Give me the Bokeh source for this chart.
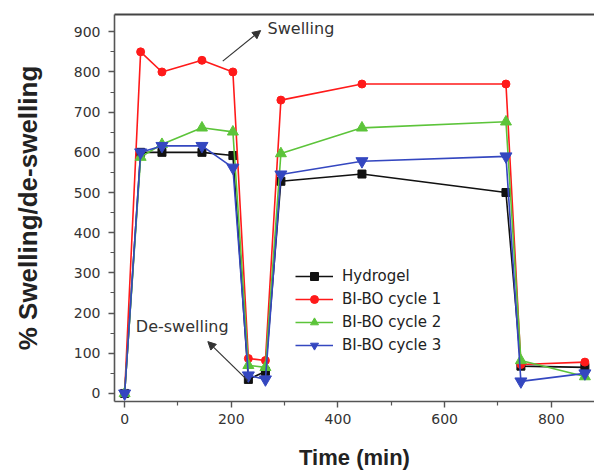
from bokeh.plotting import figure
from bokeh.models import Range1d, LinearAxis, Label, Arrow, NormalHead, FixedTicker
from bokeh.embed import file_html
from bokeh.resources import INLINE

# ---- data ----
time_min = [0, 30, 70, 145, 203, 232, 264, 293, 445, 715, 743, 863]
hydrogel = [0, 600, 600, 600, 592, 35, 55, 528, 546, 500, 68, 65]
bibo_c1 = [0, 850, 800, 829, 800, 87, 82, 730, 770, 770, 72, 78]
bibo_c2 = [0, 588, 620, 661, 651, 70, 65, 597, 661, 676, 82, 42]
bibo_c3 = [0, 600, 616, 616, 562, 45, 35, 545, 578, 590, 30, 50]
series_names = ["Hydrogel", "BI-BO cycle 1", "BI-BO cycle 2", "BI-BO cycle 3"]
x_ticks = [0, 200, 400, 600, 800]
x_minor = [100, 300, 500, 700]
y_ticks = [0, 100, 200, 300, 400, 500, 600, 700, 800, 900]
y_minor = [50, 150, 250, 350, 450, 550, 650, 750, 850]

p = figure(width=594, height=472, output_backend="svg", toolbar_location=None,
           x_range=Range1d(-19, 881), y_range=Range1d(-20, 943),
           min_border_left=114, min_border_right=0, min_border_top=14, min_border_bottom=69)
p.grid.visible = False
p.outline_line_color = None
p.background_fill_color = "white"

xb = p.below[0]
yl = p.left[0]

styles = [
    (hydrogel, "#111111", "square", 8),
    (bibo_c1, "#ff1a1a", "circle", 8),
    (bibo_c2, "#5cc43a", "triangle", 11),
    (bibo_c3, "#3447c0", "inverted_triangle", 12),
]
for name, (vals, col, mk, sz) in zip(series_names, styles):
    p.line(time_min, vals, line_color=col, line_width=1.6, legend_label=name)
    p.scatter(time_min, vals, marker=mk, size=sz, fill_color=col, line_color=col, legend_label=name)

# top frame line
top = LinearAxis(ticker=FixedTicker(ticks=[]), axis_line_color="#444444", axis_line_width=2,
                 major_tick_out=0, major_tick_in=0, minor_tick_out=0, minor_tick_in=0,
                 major_label_text_font_size="0px", major_label_standoff=0)
p.add_layout(top, "above")

for ax in (xb, yl):
    ax.axis_line_color = "#555555"
    ax.axis_line_width = 1.6
    ax.major_tick_line_color = "#555555"
    ax.minor_tick_line_color = "#555555"
    ax.major_tick_line_width = 1.4
    ax.minor_tick_line_width = 1.2
    ax.major_tick_out = 6
    ax.major_tick_in = 0
    ax.minor_tick_out = 4
    ax.minor_tick_in = 0
    ax.major_label_text_font = "DejaVu Sans"
    ax.major_label_text_font_size = "14px"
    ax.major_label_text_color = "#333333"
    ax.axis_label_text_font = "Liberation Sans"
    ax.axis_label_text_font_style = "bold"
    ax.axis_label_text_color = "#222222"

xb.ticker = FixedTicker(ticks=x_ticks, minor_ticks=x_minor)
yl.ticker = FixedTicker(ticks=y_ticks, minor_ticks=y_minor)
xb.axis_label = "Time (min)"
xb.axis_label_text_font_size = "22px"
xb.major_label_standoff = 6
xb.axis_label_standoff = 18
yl.axis_label = "% Swelling/de-swelling"
yl.axis_label_text_font_size = "26px"
yl.major_label_standoff = 8
yl.axis_label_standoff = 28

leg = p.legend[0]
leg.location = (181, 46)
leg.background_fill_alpha = 0
leg.border_line_color = None
leg.padding = 0
leg.margin = 0
leg.spacing = 3
leg.glyph_width = 38
leg.glyph_height = 20
leg.label_height = 20
leg.label_standoff = 9
leg.label_text_font = "DejaVu Sans"
leg.label_text_font_size = "15px"
leg.label_text_color = "#222222"

# annotations
p.add_layout(Label(x=268, y=908, text="Swelling", text_font="DejaVu Sans", text_font_size="16px",
                   text_color="#333333", text_baseline="middle"))
p.add_layout(Label(x=21, y=166, text="De-swelling", text_font="DejaVu Sans", text_font_size="16px",
                   text_color="#333333", text_baseline="middle"))
p.add_layout(Arrow(end=NormalHead(size=8, fill_color="#333333", line_color="#333333"),
                   x_start=184, y_start=827, x_end=255, y_end=903, line_color="#333333", line_width=1.2))
p.add_layout(Arrow(end=NormalHead(size=8, fill_color="#333333", line_color="#333333"),
                   x_start=231, y_start=32, x_end=156, y_end=129, line_color="#333333", line_width=1.2))

open("out.html", "w").write(file_html(p, INLINE))
